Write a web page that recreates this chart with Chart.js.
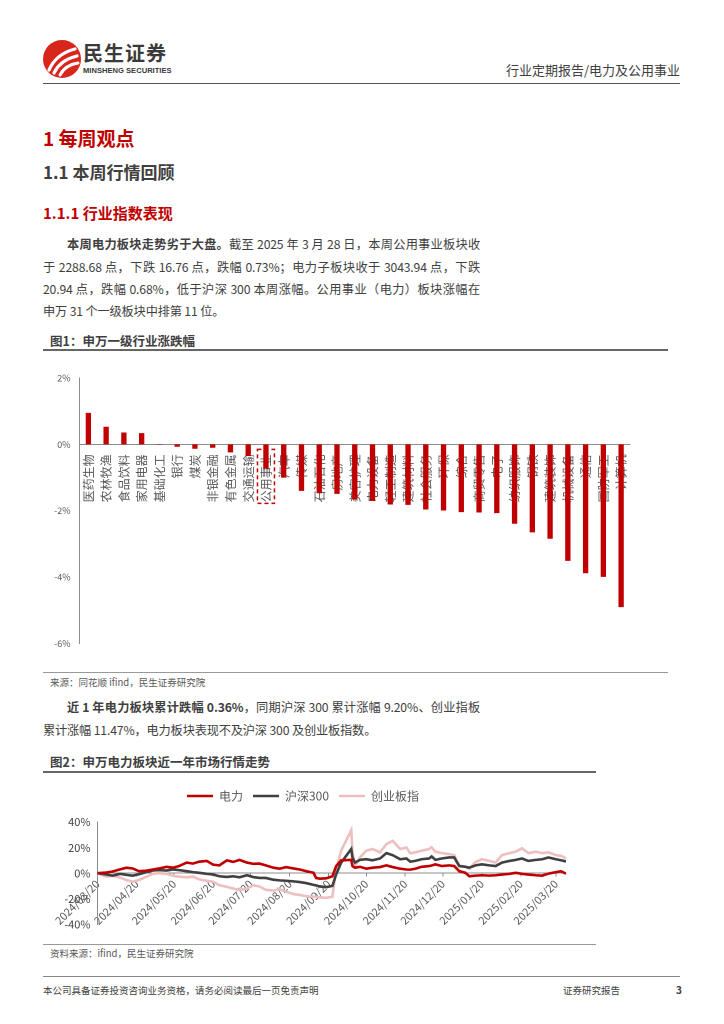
<!DOCTYPE html>
<html><head><meta charset="utf-8">
<script src="https://cdn.jsdelivr.net/npm/chart.js@4.4.1/dist/chart.umd.min.js"></script>
<style>
html,body{margin:0;padding:0;background:#fff;}
body{width:724px;height:1024px;position:relative;overflow:hidden;font-family:"Noto Sans CJK SC","Noto Sans",sans-serif;color:#404040;}
.a{position:absolute;white-space:nowrap;}
.j{position:absolute;text-align:justify;text-align-last:justify;white-space:normal;height:22px;overflow:visible;}
.p{font-size:12.2px;letter-spacing:-0.15px;line-height:22px;}
.rule{position:absolute;}
canvas{position:absolute;}
</style></head><body>
<svg class="a" style="left:42px;top:39px" width="40" height="40" viewBox="0 0 40 40">
  <circle cx="20" cy="20" r="19" fill="#D8261D"/>
  <path d="M7 31 Q14 15 33 10" stroke="#fff" stroke-width="3.2" fill="none" stroke-linecap="round"/>
  <path d="M12 34 Q18 21 35 17" stroke="#fff" stroke-width="3.2" fill="none" stroke-linecap="round"/>
  <path d="M18 36 Q23 26 36 24" stroke="#fff" stroke-width="3" fill="none" stroke-linecap="round"/>
</svg>
<div class="a" style="left:83px;top:40px;font-size:20px;font-weight:bold;color:#3a3a3a;line-height:26px;letter-spacing:1px">民生证券</div>
<div class="a" style="left:83px;top:66px;font-size:7.6px;font-weight:bold;color:#3a3a3a;line-height:9px;font-family:'Liberation Sans',sans-serif">MINSHENG SECURITIES</div>
<div class="a" style="right:44px;top:61px;font-size:13px;line-height:18px;color:#404040">行业定期报告/电力及公用事业</div>
<div class="rule" style="left:43px;top:83px;width:637px;height:1px;background:#555"></div>

<div class="a" style="left:43px;top:125px;font-size:19px;font-weight:bold;color:#C00000;line-height:26px">1 每周观点</div>
<div class="a" style="left:43px;top:160px;font-size:17px;font-weight:bold;color:#404040;line-height:24px">1.1 本周行情回顾</div>
<div class="a" style="left:43px;top:202px;font-size:15px;font-weight:bold;color:#C00000;line-height:22px">1.1.1 行业指数表现</div>

<div class="j p" style="left:67px;top:233px;width:413px"><b>本周电力板块走势劣于大盘。</b>截至 2025 年 3 月 28 日，本周公用事业板块收</div>
<div class="j p" style="left:43px;top:256px;width:437px">于 2288.68 点，下跌 16.76 点，跌幅 0.73%；电力子板块收于 3043.94 点，下跌</div>
<div class="j p" style="left:43px;top:278px;width:437px">20.94 点，跌幅 0.68%，低于沪深 300 本周涨幅。公用事业（电力）板块涨幅在</div>
<div class="a p" style="left:43px;top:300px">申万 31 个一级板块中排第 11 位。</div>

<div class="a" style="left:50px;top:332px;font-size:12.5px;font-weight:bold;color:#404040;line-height:18px">图1：申万一级行业涨跌幅</div>
<div class="rule" style="left:43px;top:349px;width:625px;height:1.5px;background:#666"></div>
<canvas id="c1" width="600" height="300" style="left:40px;top:358px;width:600px;height:300px"></canvas>
<div class="rule" style="left:43px;top:672px;width:625px;height:1px;background:#999"></div>
<div class="a" style="left:50px;top:675px;font-size:9.5px;color:#595959;line-height:14px">来源：同花顺 ifind，民生证券研究院</div>

<div class="j p" style="left:67px;top:696px;width:413px"><b>近 1 年电力板块累计跌幅 0.36%</b>，同期沪深 300 累计涨幅 9.20%、创业指板</div>
<div class="a p" style="left:43px;top:719px">累计涨幅 11.47%，电力板块表现不及沪深 300 及创业板指数。</div>

<div class="a" style="left:50px;top:753px;font-size:12.5px;font-weight:bold;color:#404040;line-height:18px">图2：申万电力板块近一年市场行情走势</div>
<div class="rule" style="left:43px;top:771px;width:553px;height:1.5px;background:#666"></div>
<canvas id="c2" width="540" height="158" style="left:40px;top:780px;width:540px;height:158px"></canvas>
<div class="rule" style="left:43px;top:944px;width:553px;height:1px;background:#999"></div>
<div class="a" style="left:50px;top:946px;font-size:9.5px;color:#595959;line-height:14px">资料来源：ifind，民生证券研究院</div>

<div class="rule" style="left:43px;top:976px;width:637px;height:1px;background:#888"></div>
<div class="a" style="left:43px;top:983px;font-size:9.5px;color:#404040;line-height:14px">本公司具备证券投资咨询业务资格，请务必阅读最后一页免责声明</div>
<div class="a" style="left:563px;top:983px;font-size:9.5px;color:#404040;line-height:14px">证券研究报告</div>
<div class="a" style="left:676px;top:983px;font-size:10px;font-weight:bold;color:#404040;line-height:14px">3</div>

<script>
// ---------- Figure 1 data ----------
const industries = ['医药生物','农林牧渔','食品饮料','家用电器','基础化工','银行','煤炭','非银金融','有色金属','交通运输','公用事业','汽车','传媒','石油石化','房地产','美容护理','电力设备','轻工制造','建筑材料','社会服务','环保','综合','商贸零售','电子','纺织服饰','钢铁','建筑装饰','机械设备','通信','国防军工','计算机'];
const weeklyChange = [0.95,0.53,0.36,0.34,-0.01,-0.07,-0.13,-0.10,-0.24,-0.35,-0.73,-1.00,-1.40,-1.47,-1.49,-1.66,-1.70,-1.81,-1.82,-1.96,-1.99,-2.04,-2.05,-2.07,-2.39,-2.65,-2.84,-3.51,-3.88,-3.99,-4.90];
const highlightName = '公用事业';
const y1Ticks = [2,0,-2,-4,-6];

// ---------- Figure 2 data ----------
const lineDates = ['2024-03-20','2024-03-27','2024-04-01','2024-04-07','2024-04-12','2024-04-17','2024-04-22','2024-04-28','2024-05-03','2024-05-08','2024-05-14','2024-05-19','2024-05-24','2024-05-30','2024-06-04','2024-06-09','2024-06-15','2024-06-20','2024-06-25','2024-07-01','2024-07-06','2024-07-11','2024-07-17','2024-07-22','2024-07-27','2024-08-01','2024-08-07','2024-08-12','2024-08-17','2024-08-23','2024-08-28','2024-09-02','2024-09-08','2024-09-10','2024-09-13','2024-09-18','2024-09-23','2024-09-26','2024-09-30','2024-10-08','2024-10-09','2024-10-11','2024-10-15','2024-10-20','2024-10-25','2024-10-31','2024-11-05','2024-11-10','2024-11-16','2024-11-21','2024-11-24','2024-11-28','2024-12-03','2024-12-09','2024-12-11','2024-12-14','2024-12-19','2024-12-25','2024-12-29','2025-01-02','2025-01-07','2025-01-10','2025-01-15','2025-01-20','2025-01-26','2025-01-31','2025-02-05','2025-02-11','2025-02-16','2025-02-21','2025-02-26','2025-03-04','2025-03-09','2025-03-14','2025-03-20','2025-03-24','2025-03-28'];
const power   = [0,0.5,1.3,3.0,4.3,3.7,1.6,2.0,2.9,3.7,5.0,4.3,5.6,8.3,7.5,9.0,9.6,6.7,6.1,10.0,8.8,10.4,8.3,7.3,7.5,6.1,4.3,3.5,4.8,3.7,2.9,1.6,0.3,-3.7,-4.3,-4.0,-2.4,5.6,10.0,10.4,5.6,4.3,5.0,3.5,4.3,4.8,6.1,4.8,3.5,2.9,2.8,3.5,5.0,5.6,6.0,6.9,5.6,6.1,5.6,1.6,0.3,-2.4,-1.9,-1.6,-1.9,-1.6,-1.1,-0.5,0.3,-0.5,-1.1,-1.6,-1.9,-0.3,0.8,1.5,-0.36];
const hs300   = [0,-1.0,-1.9,-0.5,-1.3,-1.9,-0.8,0.8,2.1,2.4,2.1,2.9,2.4,1.6,0.8,0.3,-0.5,-1.0,-2.4,-2.9,-2.4,-3.2,-1.6,-3.0,-3.7,-3.7,-5.1,-5.6,-5.9,-6.4,-6.9,-7.7,-9.1,-9.5,-10.4,-10.9,-9.9,-1.0,8.3,18.9,12.3,8.3,10.4,10.9,10.1,11.5,15.7,14.1,10.9,11.5,9.0,9.6,10.9,11.5,13.1,10.4,11.5,12.3,12.3,5.6,5.0,4.3,6.1,6.9,6.1,5.6,8.3,9.6,10.4,11.5,9.6,10.4,10.9,12.3,10.9,10.1,9.20];
const chinext = [0,-2.7,-2.0,-3.5,-5.3,-6.7,-5.3,-2.7,-0.5,0,-0.5,-2.0,-2.7,-3.2,-2.7,-4.8,-5.9,-6.7,-9.3,-10.7,-12.0,-13.3,-12.0,-9.5,-10.4,-13.0,-13.6,-12.5,-14.4,-16.3,-17.0,-17.9,-18.4,-18.6,-18.9,-19.2,-18.4,2.9,17.6,33.6,16.3,5.6,12.3,17.6,18.9,16.3,22.7,25.3,18.9,20.0,15.5,16.3,17.6,18.9,20.3,16.8,15.7,14.9,14.1,6.1,5.0,3.5,8.8,10.9,9.6,8.3,14.1,15.7,16.8,19.5,15.7,16.8,15.7,16.3,14.1,13.6,11.47];
const seriesNames = ['电力','沪深300','创业板指'];
const xTickLabels = ['2024/03/20','2024/04/20','2024/05/20','2024/06/20','2024/07/20','2024/08/20','2024/09/20','2024/10/20','2024/11/20','2024/12/20','2025/01/20','2025/02/20','2025/03/20'];
const y2Ticks = [40,20,0,-20,-40];

const FONT = '"Noto Sans CJK SC","Noto Sans",sans-serif';
const dayOf = s => Math.round((Date.parse(s.replace(/\//g,'-') + 'T00:00:00Z') - Date.parse('2024-03-20T00:00:00Z')) / 86400000);
const tickDays = xTickLabels.map(dayOf);

// ---------- Chart 1 ----------
const hlBox = {
  id: 'hlBox',
  afterDraw(chart) {
    const idx = industries.indexOf(highlightName);
    const x = chart.scales.x.getPixelForValue(idx);
    const y0 = chart.scales.y.getPixelForValue(0);
    const ctx = chart.ctx;
    ctx.save();
    ctx.strokeStyle = '#C00000';
    ctx.lineWidth = 1.5;
    ctx.setLineDash([4, 3]);
    ctx.strokeRect(x - 8.5, y0 + 5, 17, 54);
    ctx.restore();
  }
};
new Chart(document.getElementById('c1'), {
  type: 'bar',
  data: { labels: industries, datasets: [{ data: weeklyChange, backgroundColor: '#C00000', barPercentage: 0.3, categoryPercentage: 1 }] },
  options: {
    responsive: false, animation: false, devicePixelRatio: 2,
    layout: { padding: { top: 20, right: 10, bottom: 10, left: 0 } },
    plugins: { legend: { display: false }, tooltip: { enabled: false } },
    scales: {
      x: {
        position: { y: 0 },
        grid: { display: false },
        border: { display: true, color: '#8c8c8c', width: 1 },
        ticks: { autoSkip: false, minRotation: 90, maxRotation: 90, padding: 2, color: '#595959', font: { family: FONT, size: 12 } }
      },
      y: {
        min: -6, max: 2,
        afterFit(s) { s.width = 39.5; },
        afterBuildTicks(s) { s.ticks = y1Ticks.map(v => ({ value: v })); },
        grid: { display: false, drawTicks: false },
        border: { display: true, color: '#8c8c8c', width: 1 },
        ticks: { padding: 9, color: '#595959', font: { family: FONT, size: 9 }, callback: v => v + '%' }
      }
    }
  },
  plugins: [hlBox]
});

// ---------- Chart 2 ----------
const toPts = arr => arr.map((v, i) => ({ x: dayOf(lineDates[i]), y: v }));
const colors = ['#C00000', '#404040', '#EDBFBF'];
const legendGap = {
  id: 'legendGap',
  beforeInit(chart) {
    const lg = chart.legend;
    const orig = lg.fit;
    lg.fit = function () { orig.call(this); this.height += 10; };
  }
};
new Chart(document.getElementById('c2'), {
  type: 'line',
  data: {
    datasets: [power, hs300, chinext].map((arr, k) => ({
      label: seriesNames[k], data: toPts(arr), borderColor: colors[k], backgroundColor: colors[k],
      borderWidth: 2.6, pointRadius: 0, tension: 0, pointStyle: 'line'
    }))
  },
  options: {
    responsive: false, animation: false, devicePixelRatio: 2,
    layout: { padding: { top: 0, right: 14, bottom: 5, left: 0 } },
    plugins: {
      tooltip: { enabled: false },
      legend: {
        position: 'top',
        labels: { usePointStyle: true, pointStyleWidth: 26, boxHeight: 8, padding: 10, color: '#595959', font: { family: FONT, size: 12 } }
      }
    },
    scales: {
      x: {
        type: 'linear', position: { y: 0 },
        min: 0, max: dayOf(lineDates[lineDates.length - 1]),
        afterBuildTicks(s) { s.ticks = tickDays.map(v => ({ value: v })); },
        grid: { display: true, drawOnChartArea: false, tickLength: 3, color: '#8c8c8c' },
        border: { display: true, color: '#8c8c8c', width: 1 },
        ticks: { autoSkip: false, minRotation: 45, maxRotation: 45, padding: 1, color: '#595959', font: { family: FONT, size: 11 },
          callback: (v) => { const i = tickDays.indexOf(v); return i >= 0 ? xTickLabels[i] : ''; } }
      },
      y: {
        min: -40, max: 40,
        afterFit(s) { s.width = 57.5; },
        afterBuildTicks(s) { s.ticks = y2Ticks.map(v => ({ value: v })); },
        grid: { display: false, drawTicks: false },
        border: { display: true, color: '#8c8c8c', width: 1 },
        ticks: { padding: 7, color: '#404040', font: { family: FONT, size: 11 }, callback: v => v + '%' }
      }
    }
  },
  plugins: [legendGap]
});
</script>
</body></html>
